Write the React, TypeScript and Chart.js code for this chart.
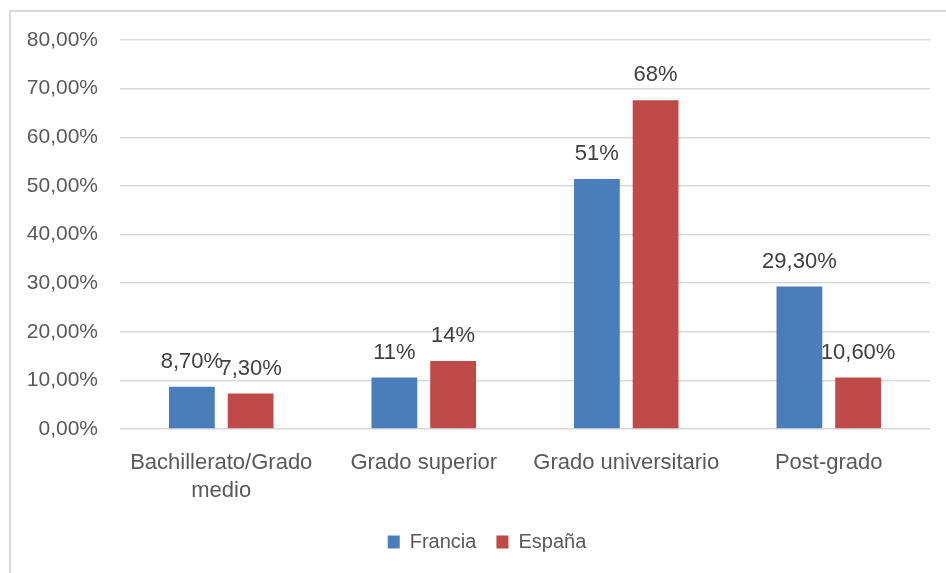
import React, { useEffect, useRef } from "react";
import { Chart, registerables } from "chart.js";

Chart.register(...registerables);

const categories: (string | string[])[] = [
  ["Bachillerato/Grado", "medio"],
  "Grado superior",
  "Grado universitario",
  "Post-grado",
];
const franciaValues = [8.7, 10.6, 51.4, 29.3];
const espanaValues = [7.3, 14.0, 67.6, 10.6];
const franciaLabels = ["8,70%", "11%", "51%", "29,30%"];
const espanaLabels = ["7,30%", "14%", "68%", "10,60%"];
const seriesNames = ["Francia", "España"];
const yTickLabels = ["0,00%", "10,00%", "20,00%", "30,00%", "40,00%", "50,00%", "60,00%", "70,00%", "80,00%"];

const FONT = "'Liberation Sans', Arial, sans-serif";

const dataLabelPlugin = {
  id: "dataLabels",
  afterUpdate(chart: any) {
    const lg = chart.legend;
    if (lg) {
      lg.left += 22;
      lg.right += 22;
    }
  },
  afterDatasetsDraw(chart: any) {
    const ctx = chart.ctx;
    const labelSets = [franciaLabels, espanaLabels];
    ctx.save();
    ctx.font = `22px ${FONT}`;
    ctx.fillStyle = "#404040";
    ctx.textAlign = "center";
    ctx.textBaseline = "middle";
    chart.data.datasets.forEach((_ds: any, di: number) => {
      const meta = chart.getDatasetMeta(di);
      meta.data.forEach((bar: any, i: number) => {
        ctx.fillText(labelSets[di][i], bar.x, bar.y - 25);
      });
    });
    ctx.restore();
  },
};

export default function App() {
  const canvasRef = useRef<HTMLCanvasElement | null>(null);

  useEffect(() => {
    document.body.style.margin = "0";
    const canvas = canvasRef.current;
    if (!canvas) return;
    const chart = new Chart(canvas, {
      type: "bar",
      data: {
        labels: categories,
        datasets: [
          {
            label: seriesNames[0],
            data: franciaValues,
            backgroundColor: "#4a7ebb",
            categoryPercentage: 0.58,
            barPercentage: 0.78,
          },
          {
            label: seriesNames[1],
            data: espanaValues,
            backgroundColor: "#be4b48",
            categoryPercentage: 0.58,
            barPercentage: 0.78,
          },
        ],
      },
      options: {
        animation: false,
        responsive: false,
        devicePixelRatio: 1,
        layout: { padding: { top: 40, right: 16, bottom: 11, left: 0 } },
        plugins: {
          tooltip: { enabled: false },
          legend: {
            position: "bottom",
            labels: {
              boxWidth: 12,
              boxHeight: 13,
              padding: 20,
              color: "#595959",
              font: { family: FONT, size: 20 },
            },
          },
        },
        scales: {
          x: {
            grid: { display: false },
            border: { display: false },
            ticks: {
              color: "#595959",
              font: { family: FONT, size: 22, lineHeight: "28px" },
              padding: 12,
              maxRotation: 0,
              autoSkip: false,
            },
            afterFit(scale: any) {
              scale.height = 83;
            },
          },
          y: {
            min: 0,
            max: 80,
            border: { display: false },
            grid: { color: "#d9d9d9", lineWidth: 1.5, drawTicks: false },
            ticks: {
              stepSize: 10,
              color: "#595959",
              font: { family: FONT, size: 21 },
              padding: 22,
              callback: (_v: any, i: number) => yTickLabels[i],
            },
            afterFit(scale: any) {
              scale.width = 120;
            },
          },
        },
      },
      plugins: [dataLabelPlugin],
    });
    return () => chart.destroy();
  }, []);

  return (
    <div style={{ position: "relative", width: 946, height: 573, overflow: "hidden", background: "#fff" }}>
      <div
        style={{
          position: "absolute",
          left: 9,
          top: 10,
          width: 2000,
          height: 2000,
          borderTop: "2px solid #d9d9d9",
          borderLeft: "2px solid #d9d9d9",
        }}
      />
      <canvas ref={canvasRef} width={946} height={573} style={{ position: "absolute", left: 0, top: 0 }} />
    </div>
  );
}
